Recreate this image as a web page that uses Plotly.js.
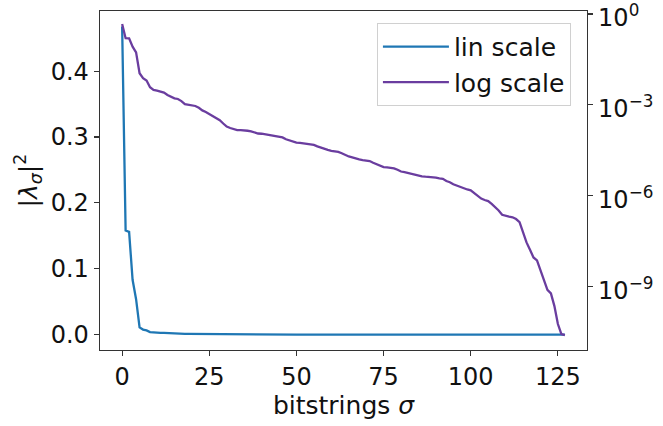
<!DOCTYPE html>
<html>
<head>
<meta charset="utf-8">
<script src="https://cdn.plot.ly/plotly-3.0.1.min.js"></script>
<style>html,body{margin:0;padding:0;background:#fff;}#chart{width:663px;height:426px;}</style>
</head>
<body>
<div id="chart"></div>
<script>
// bitstring index sigma
var bitstrings = [];
for (var k = 0; k < 128; k++) bitstrings.push(k);

// |lambda_sigma|^2, sorted descending
var eigenWeights = [
  0.468, 0.158, 0.156, 0.0832, 0.0537, 0.011, 0.0076, 0.0063, 0.0038, 0.0031,
  0.00295, 0.00275, 0.00251, 0.00209, 0.00178, 0.00162, 0.00155, 0.00132, 0.00105, 1.0e-3,
  9.5e-4, 9.1e-4, 7.9e-4, 6.5e-4, 5.75e-4, 4.9e-4, 4.27e-4, 3.72e-4, 3.09e-4, 2.4e-4,
  1.9e-4, 1.7e-4, 1.58e-4, 1.45e-4, 1.44e-4, 1.43e-4, 1.38e-4, 1.32e-4, 1.2e-4, 1.12e-4,
  1.10e-4, 1.05e-4, 9.5e-5, 9.1e-5, 8.9e-5, 8.7e-5, 8.3e-5, 7.2e-5, 6.5e-5, 6.0e-5,
  5.6e-5, 5.5e-5, 5.25e-5, 5.0e-5, 4.9e-5, 4.7e-5, 4.2e-5, 3.8e-5, 3.47e-5, 3.24e-5,
  3.0e-5, 2.9e-5, 2.75e-5, 2.5e-5, 2.2e-5, 1.95e-5, 1.82e-5, 1.66e-5, 1.55e-5, 1.48e-5,
  1.41e-5, 1.38e-5, 1.2e-5, 1.07e-5, 9.3e-6, 8.7e-6, 8.5e-6, 8.1e-6, 7.9e-6, 7.1e-6,
  6.2e-6, 5.9e-6, 5.5e-6, 5.25e-6, 4.7e-6, 4.4e-6, 4.3e-6, 4.17e-6, 4.15e-6, 4.0e-6,
  3.9e-6, 3.7e-6, 3.55e-6, 3.0e-6, 2.75e-6, 2.35e-6, 2.1e-6, 1.9e-6, 1.7e-6, 1.58e-6,
  1.48e-6, 1.2e-6, 9.3e-7, 7.9e-7, 7.1e-7, 6.5e-7, 5.25e-7, 4.2e-7, 3.2e-7, 2.3e-7,
  2.1e-7, 2.0e-7, 1.9e-7, 1.66e-7, 1.32e-7, 5.6e-8, 2.8e-8, 1.6e-8, 8.9e-9, 7.1e-9,
  3.5e-9, 1.6e-9, 7.6e-10, 5.8e-10, 2.2e-10, 5.6e-11, 2.6e-11, 2.4e-11
];

var seriesNames = ['lin scale', 'log scale'];
var xTickVals = [0, 25, 50, 75, 100, 125];
var yTickVals = [0, 0.1, 0.2, 0.3, 0.4];
var y2TickVals = [1, 1e-3, 1e-6, 1e-9];
var y2TickText = ['10<sup>0</sup>', '10<sup>\u22123</sup>', '10<sup>\u22126</sup>', '10<sup>\u22129</sup>'];

var FONT = 'DejaVu Sans, Liberation Sans, sans-serif';

var traces = [
  {x: bitstrings, y: eigenWeights, name: seriesNames[0], type: 'scatter', mode: 'lines',
   line: {color: '#1f77b4', width: 2.3}, yaxis: 'y'},
  {x: bitstrings, y: eigenWeights, name: seriesNames[1], type: 'scatter', mode: 'lines',
   line: {color: '#6a3d9f', width: 2.3}, yaxis: 'y2'}
];

var axisCommon = {
  showgrid: false, zeroline: false, showline: true, linecolor: '#333', linewidth: 1.3,
  ticks: 'outside', ticklen: 5, tickwidth: 1.2, tickcolor: '#333',
  ticklabeloverflow: 'allow',
  tickfont: {family: FONT, size: 24, color: '#111'}
};

var layout = {
  width: 663, height: 426,
  margin: {l: 100, r: 76, t: 11, b: 76, pad: 0},
  paper_bgcolor: '#fff', plot_bgcolor: '#fff',
  font: {family: FONT, size: 24, color: '#111'},
  showlegend: true,
  legend: {x: 0.967, y: 0.965, xanchor: 'right', yanchor: 'top',
           bordercolor: '#d0d0d0', borderwidth: 1, bgcolor: 'rgba(255,255,255,0.85)',
           itemwidth: 66,
           font: {family: FONT, size: 25, color: '#111'}, tracegroupgap: 0},
  xaxis: Object.assign({}, axisCommon, {
    range: [-6.35, 133.35], tickvals: xTickVals, mirror: true,
    title: {text: 'bitstrings <i>σ</i>', font: {family: FONT, size: 25, color: '#111'}, standoff: 4}
  }),
  yaxis: Object.assign({}, axisCommon, {
    range: [-0.0234, 0.4914], tickvals: yTickVals, tickformat: '.1f',
    title: {text: '|<i>λ</i><sub><i>σ</i></sub>|<sup>2</sup>', font: {family: FONT, size: 25, color: '#111'}, standoff: 6}
  }),
  yaxis2: Object.assign({}, axisCommon, {
    type: 'log', range: [-11.11, 0.1], overlaying: 'y', side: 'right', anchor: 'x',
    tickvals: y2TickVals, ticktext: y2TickText, ticklabelshift: 4
  })
};

Plotly.newPlot('chart', traces, layout, {staticPlot: true, displayModeBar: false});
</script>
</body>
</html>
